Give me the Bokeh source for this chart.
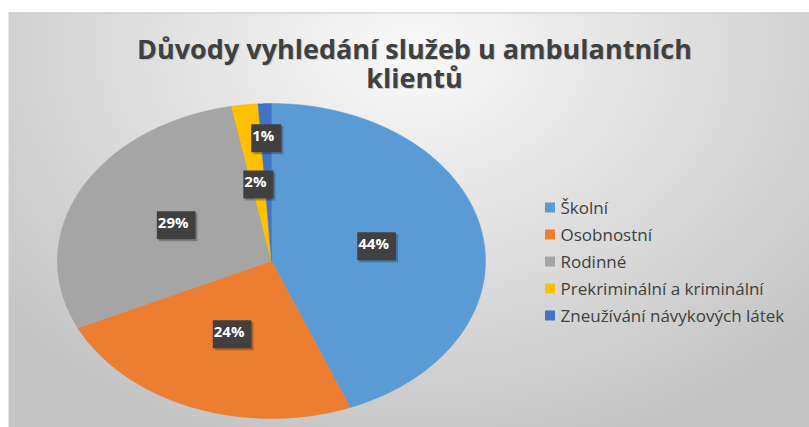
import numpy as np
from bokeh.plotting import figure
from bokeh.models import Range1d
from bokeh.core.properties import value
from bokeh.embed import file_html
from bokeh.resources import INLINE

# ---- data ----
title_lines = ["Důvody vyhledání služeb u ambulantních", "klientů"]
categories = ["Školní", "Osobnostní", " Rodinné", "Prekriminální a kriminální", "Zneužívání návykových látek"]
values = [44, 24, 29, 2, 1]
colors = ["#5B9BD5", "#ED7D31", "#A5A5A5", "#FFC000", "#4472C4"]
label_radius = [0.5, 0.5, 0.5, 0.49, 0.78]

W, H = 809, 427
p = figure(width=W, height=H, output_backend="svg", toolbar_location=None,
           x_range=Range1d(0, W), y_range=Range1d(H, 0), min_border=0)
p.axis.visible = False
p.grid.visible = False
p.outline_line_color = None
p.background_fill_color = "white"
p.border_fill_color = "white"

# background radial gradient (chart area starts at x=8, y=12)
left, top = 8, 12
bh, bw = (H - top) // 2, (W - left) // 2
yy, xx = np.mgrid[0:bh, 0:bw]
px = left + (xx + 0.5) * (W - left) / bw
py = top + (yy + 0.5) * (H - top) / bh
d = np.sqrt(((px - 414) / 560) ** 2 + ((py - 48) / 430) ** 2)
g = np.clip(250 - 55 * d, 197, 250).astype(np.uint32)
img = (255 << 24) | (g << 16) | (g << 8) | g
p.image_rgba(image=[img.astype(np.uint32)], x=left, y=top, dw=W - left, dh=H - top)
p.segment(x0=[left], y0=[top + 0.5], x1=[W], y1=[top + 0.5], line_color="#c8c8c8", line_width=1)

# pie (elliptical)
cx, cy, rx, ry = 271, 260.5, 214, 157.5
fr = np.array(values, dtype=float) / sum(values)
cum = np.concatenate([[0], np.cumsum(fr)])
xs, ys = [], []
for i in range(len(values)):
    a = np.linspace(cum[i], cum[i + 1], 200) * 2 * np.pi
    xs.append(np.concatenate([[cx], cx + rx * np.sin(a)]))
    ys.append(np.concatenate([[cy], cy - ry * np.cos(a)]))
p.patches(xs, ys, fill_color=colors, line_color=colors, line_width=0.5)

# data labels
mid = (cum[:-1] + cum[1:]) / 2 * 2 * np.pi
lx = cx + rx * np.array(label_radius) * np.sin(mid)
ly = cy - ry * np.array(label_radius) * np.cos(mid)
labels = [f"{v}%" for v in values]
p.text(x=lx + 2, y=ly + 2, text=labels, text_color="#555555", text_alpha=0.0,
       text_font=value("Open Sans"), text_font_style="bold", text_font_size="15px",
       text_align="center", text_baseline="middle",
       background_fill_color="#000000", background_fill_alpha=0.25,
       padding=[1, 7, 1, 7])
p.text(x=lx, y=ly, text=labels, text_color="white",
       text_font=value("Open Sans"), text_font_style="bold", text_font_size="15px",
       text_align="center", text_baseline="middle",
       background_fill_color="#404040", padding=[1, 7, 1, 7])

# legend
ly0, dy = 207, 27
leg_y = [ly0 + i * dy for i in range(len(categories))]
p.scatter(x=[549.5] * len(categories), y=leg_y, marker="square", size=10,
          fill_color=colors, line_color=None)
p.text(x=[560] * len(categories), y=leg_y, text=categories, text_color="#404040",
       text_font=value("Open Sans"), text_font_size="17px",
       text_align="left", text_baseline="middle")

# title
p.text(x=[415, 415], y=[49, 78], text=title_lines, text_color="#b0b0b0", text_alpha=0.6,
       text_font=value("Open Sans"), text_font_style="bold", text_font_size="27px",
       text_align="center", text_baseline="alphabetic")
p.text(x=[414, 414], y=[48, 77], text=title_lines, text_color="#404040",
       text_font=value("Open Sans"), text_font_style="bold", text_font_size="27px",
       text_align="center", text_baseline="alphabetic")

open("out.html", "w").write(file_html(p, INLINE))
